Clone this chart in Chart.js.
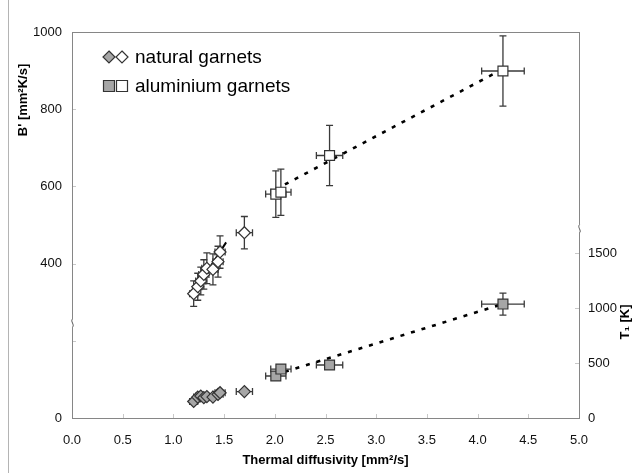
<!DOCTYPE html>
<html>
<head>
<meta charset="utf-8">
<script src="https://cdn.jsdelivr.net/npm/chart.js@4.4.0/dist/chart.umd.min.js"></script>
<style>
  html, body { margin: 0; padding: 0; background: #fff; }
  #wrap { width: 637px; height: 473px; position: relative; }
</style>
</head>
<body>
<div id="wrap"><canvas id="garnetChart"></canvas></div>
<script>
// natural garnets: diffusivity, B' (left axis) and T1 (right axis)
const natD = [1.20, 1.24, 1.27, 1.30, 1.33, 1.39, 1.44, 1.46, 1.70];
const natDErr = [0.04, 0.04, 0.05, 0.05, 0.05, 0.05, 0.05, 0.05, 0.08];
const natB = [322, 340, 355, 372, 388, 385, 405, 430, 480];
const natBErr = [33, 35, 36, 38, 40, 40, 40, 42, 42];
const natT = [150, 190, 200, 185, 195, 190, 215, 230, 240];
const natTErr = [20, 20, 20, 20, 20, 20, 20, 20, 20];

// aluminium garnets
const alD = [2.01, 2.06, 2.54, 4.25];
const alDErr = [0.10, 0.10, 0.13, 0.21];
const alB = [580, 585, 680, 899];
const alBErr = [60, 60, 78, 91];
const alT = [382, 445, 482, 1036];
const alTErr = [20, 20, 20, 100];

// trend lines
const natFitD = [1.20, 1.52];
const natFitB = [325, 455];
const natFitT = [160, 232];
const alFitD = [2.10, 4.22];
const alFitB = [605, 900];
const alFitT = [420, 1028];

// tick values
const xTicks = [0, 0.5, 1, 1.5, 2, 2.5, 3, 3.5, 4, 4.5, 5];
const bTicks = [0, 200, 400, 600, 800, 1000];
const bHidden = [200];
const tTicks = [0, 500, 1000, 1500];

// axis breaks (value where the "~" sits)
const leftBreak = 246;
const rightBreak = 1720;

const FONT = 'Arial, "Liberation Sans", sans-serif';
const AXIS_GREY = '#868686';
const BAR = '#3a3a3a';

const pts = (xs, ys) => xs.map((x, i) => ({ x: x, y: ys[i] }));
const fixedTicks = vals => s => { s.ticks = vals.map(v => ({ value: v })); };

function markerSet(label, xs, ys, xe, ye, axis, style, fill, radius) {
  return {
    label: label,
    data: pts(xs, ys),
    errX: xe,
    errY: ye,
    yAxisID: axis,
    showLine: false,
    pointStyle: style,
    pointRadius: radius,
    pointHoverRadius: radius,
    pointBackgroundColor: fill,
    pointBorderColor: '#333',
    pointBorderWidth: 1.2,
    order: 1
  };
}

function fitSet(xs, ys, axis, dashed) {
  return {
    data: pts(xs, ys),
    yAxisID: axis,
    showLine: true,
    pointRadius: 0,
    borderColor: '#000',
    borderWidth: dashed ? 2.6 : 2,
    borderDash: dashed ? [4, 7] : [],
    fill: false,
    order: 5
  };
}

// error bars for every dataset that carries errX / errY
const errorBars = {
  id: 'errorBars',
  beforeDatasetsDraw(chart) {
    const ctx = chart.ctx;
    const xs = chart.scales.x;
    chart.data.datasets.forEach(ds => {
      if (!ds.errX) return;
      const ys = chart.scales[ds.yAxisID];
      ctx.save();
      ctx.strokeStyle = BAR;
      ctx.lineWidth = 1.3;
      ds.data.forEach((p, i) => {
        const px = xs.getPixelForValue(p.x);
        const py = ys.getPixelForValue(p.y);
        const x0 = xs.getPixelForValue(p.x - ds.errX[i]);
        const x1 = xs.getPixelForValue(p.x + ds.errX[i]);
        const y0 = ys.getPixelForValue(p.y + ds.errY[i]);
        const y1 = ys.getPixelForValue(p.y - ds.errY[i]);
        const c = 3.5;
        ctx.beginPath();
        ctx.moveTo(x0, py); ctx.lineTo(x1, py);
        ctx.moveTo(x0, py - c); ctx.lineTo(x0, py + c);
        ctx.moveTo(x1, py - c); ctx.lineTo(x1, py + c);
        ctx.moveTo(px, y0); ctx.lineTo(px, y1);
        ctx.moveTo(px - c, y0); ctx.lineTo(px + c, y0);
        ctx.moveTo(px - c, y1); ctx.lineTo(px + c, y1);
        ctx.stroke();
      });
      ctx.restore();
    });
  }
};

function breakMark(ctx, x, y) {
  ctx.fillStyle = '#fff';
  ctx.fillRect(x - 3, y - 4, 6, 8);
  ctx.strokeStyle = '#555';
  ctx.lineWidth = 1;
  ctx.beginPath();
  ctx.moveTo(x, y - 4);
  ctx.bezierCurveTo(x - 2.5, y - 2, x + 2.5, y + 2, x, y + 4);
  ctx.stroke();
}

function drawMarker(ctx, style, x, y, fill) {
  ctx.save();
  ctx.fillStyle = fill;
  ctx.strokeStyle = '#333';
  ctx.lineWidth = 1.2;
  ctx.beginPath();
  if (style === 'rectRot') {
    const r = 6;
    ctx.moveTo(x, y - r); ctx.lineTo(x + r, y); ctx.lineTo(x, y + r); ctx.lineTo(x - r, y);
    ctx.closePath();
  } else {
    const s = 5.5;
    ctx.rect(x - s, y - s, 2 * s, 2 * s);
  }
  ctx.fill();
  ctx.stroke();
  ctx.restore();
}

// frame, inner ticks, axis breaks, titles and legend
const decorations = {
  id: 'decorations',
  afterDraw(chart) {
    const ctx = chart.ctx;
    const a = chart.chartArea;
    const sx = chart.scales.x, sy = chart.scales.y, sy2 = chart.scales.y2;
    ctx.save();

    // outer border line on the left
    ctx.strokeStyle = '#b4b4b4';
    ctx.lineWidth = 1;
    ctx.beginPath();
    ctx.moveTo(8.5, 0); ctx.lineTo(8.5, chart.height);
    ctx.stroke();

    ctx.strokeStyle = '#c8c8c8';
    ctx.beginPath();
    sx.ticks.forEach(t => {
      const px = Math.round(sx.getPixelForValue(t.value)) + 0.5;
      ctx.moveTo(px, a.bottom); ctx.lineTo(px, a.bottom - 4);
    });
    sy.ticks.forEach(t => {
      const py = Math.round(sy.getPixelForValue(t.value)) + 0.5;
      ctx.moveTo(a.left, py); ctx.lineTo(a.left + 4, py);
    });
    sy2.ticks.forEach(t => {
      const py = Math.round(sy2.getPixelForValue(t.value)) + 0.5;
      ctx.moveTo(a.right, py); ctx.lineTo(a.right - 4, py);
    });
    ctx.stroke();

    ctx.strokeStyle = AXIS_GREY;
    ctx.strokeRect(Math.round(a.left) + 0.5, Math.round(a.top) + 0.5,
      Math.round(a.right - a.left), Math.round(a.bottom - a.top));

    breakMark(ctx, Math.round(a.left) + 0.5, sy.getPixelForValue(leftBreak));
    breakMark(ctx, Math.round(a.right) + 0.5, sy2.getPixelForValue(rightBreak));

    ctx.fillStyle = '#000';
    ctx.font = 'bold 13px ' + FONT;
    ctx.textAlign = 'center';
    ctx.textBaseline = 'middle';
    ctx.fillText('Thermal diffusivity [mm²/s]', (a.left + a.right) / 2, 460);

    ctx.save();
    ctx.translate(23, 100);
    ctx.rotate(-Math.PI / 2);
    ctx.fillText("B' [mm²K/s]", 0, 0);
    ctx.restore();

    ctx.save();
    ctx.translate(625, 322);
    ctx.rotate(-Math.PI / 2);
    ctx.fillText('T₁ [K]', 0, 0);
    ctx.restore();

    // legend
    drawMarker(ctx, 'rectRot', 109, 57, '#a6a6a6');
    drawMarker(ctx, 'rectRot', 122, 57, '#fff');
    drawMarker(ctx, 'rect', 109, 86, '#a6a6a6');
    drawMarker(ctx, 'rect', 122, 86, '#fff');
    ctx.font = '19px ' + FONT;
    ctx.textAlign = 'left';
    ctx.fillText('natural garnets', 135, 58);
    ctx.fillText('aluminium garnets', 135, 87);

    ctx.restore();
  }
};

const datasets = [
  fitSet(natFitD, natFitB, 'y', false),
  fitSet(natFitD, natFitT, 'y2', false),
  fitSet(alFitD, alFitB, 'y', true),
  fitSet(alFitD, alFitT, 'y2', true),
  markerSet('natural garnets T1', natD, natT, natDErr, natTErr, 'y2', 'rectRot', '#a6a6a6', 6),
  markerSet('natural garnets B\'', natD, natB, natDErr, natBErr, 'y', 'rectRot', '#fff', 6),
  markerSet('aluminium garnets T1', alD, alT, alDErr, alTErr, 'y2', 'rect', '#a6a6a6', 7),
  markerSet('aluminium garnets B\'', alD, alB, alDErr, alBErr, 'y', 'rect', '#fff', 7)
];

const tickFont = { family: FONT, size: 13 };

new Chart(document.getElementById('garnetChart'), {
  type: 'scatter',
  data: { datasets: datasets },
  options: {
    responsive: true,
    maintainAspectRatio: false,
    animation: false,
    layout: { padding: { top: 32, left: 0, right: 0, bottom: 0 } },
    plugins: { legend: { display: false }, tooltip: { enabled: false } },
    scales: {
      x: {
        type: 'linear', min: 0, max: 5,
        grid: { display: false, drawTicks: false },
        border: { display: false },
        afterBuildTicks: fixedTicks(xTicks),
        ticks: { padding: 15, color: '#111', font: tickFont,
          callback: v => v.toFixed(1) },
        afterFit: s => { s.height = 55; }
      },
      y: {
        type: 'linear', position: 'left', min: 0, max: 1000,
        grid: { display: false, drawTicks: false },
        border: { display: false },
        afterBuildTicks: fixedTicks(bTicks),
        ticks: { padding: 10, color: '#111', font: tickFont,
          callback: v => (bHidden.includes(v) ? '' : String(v)) },
        afterFit: s => { s.width = 72; }
      },
      y2: {
        type: 'linear', position: 'right', min: 0, max: 3510,
        grid: { display: false, drawTicks: false },
        border: { display: false },
        afterBuildTicks: fixedTicks(tTicks),
        ticks: { padding: 9, color: '#111', font: tickFont,
          callback: v => String(v) },
        afterFit: s => { s.width = 58; }
      }
    }
  },
  plugins: [errorBars, decorations]
});
</script>
</body>
</html>
